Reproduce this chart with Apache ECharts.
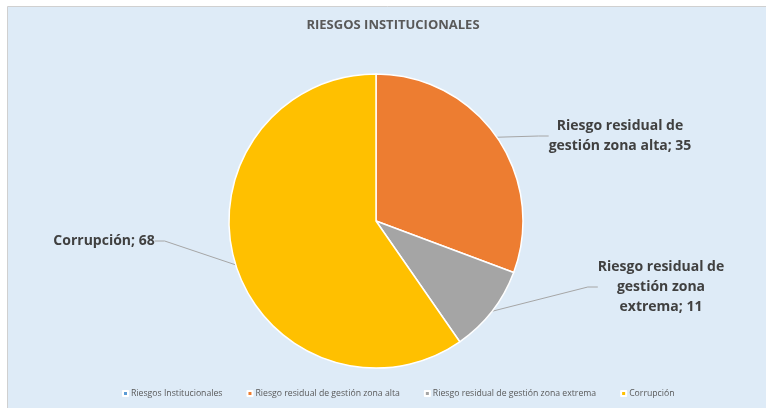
<!DOCTYPE html>
<html><head><meta charset="utf-8">
<script src="https://cdn.jsdelivr.net/npm/echarts@6/dist/echarts.min.js"></script>
<style>html,body{margin:0;padding:0;background:#fff}#c{width:766px;height:408px}</style>
</head><body><div id="c"></div>
<script>
const categories = ['Riesgos Institucionales', 'Riesgo residual de gestión zona alta', 'Riesgo residual de gestión zona extrema', 'Corrupción'];
const values = [0, 35, 11, 68];
const wrappedNames = ['', 'Riesgo residual de\ngestión zona alta', 'Riesgo residual de\ngestión zona\nextrema', 'Corrupción'];
const colors = ['#5B9BD5', '#ED7D31', '#A5A5A5', '#FFC000'];
const labelPos = [null, {x: 620, y: 136}, {x: 661, y: 287}, {x: 104, y: 241}];

const chart = echarts.init(document.getElementById('c'), null, {renderer: 'canvas'});
const data = categories.map((c, i) => ({
  name: c, value: values[i],
  itemStyle: {color: colors[i]},
  label: {show: i !== 0},
  labelLine: {show: i !== 0}
}));
chart.setOption({
  backgroundColor: '#ffffff',
  animation: false,
  graphic: [{type: 'rect', z: -10, shape: {x: 7.5, y: 6.5, width: 770, height: 410},
    style: {fill: '#DEEBF7', stroke: '#D0D0D0', lineWidth: 1}}],
  title: {text: 'RIESGOS INSTITUCIONALES', left: 388, top: 14, textAlign: 'center',
    textStyle: {fontFamily: 'Open Sans', fontSize: 13, fontWeight: 'bold', color: '#595959'}},
  legend: {bottom: 5, left: 117, itemWidth: 5, itemHeight: 5, itemGap: 24, icon: 'rect',
    textStyle: {fontFamily: 'Open Sans', fontSize: 8.7, color: '#595959', padding: [0, 0, 0, -2]}, data: categories},
  series: [{
    type: 'pie', center: [376, 221], radius: [0, 147], startAngle: 90, clockwise: true,
    itemStyle: {borderColor: '#ffffff', borderWidth: 1.5},
    label: {position: 'outside', fontFamily: 'Open Sans', fontSize: 14, fontWeight: 'bold', color: '#404040',
      lineHeight: 20, align: 'center',
      formatter: p => wrappedNames[p.dataIndex] + '; ' + p.value},
    labelLine: {lineStyle: {color: '#A6A6A6', width: 1}, length: 10, length2: 10},
    labelLayout: p => {
      const lp = labelPos[p.dataIndex];
      if (!lp) return {};
      return {x: lp.x, y: lp.y, align: 'center', verticalAlign: 'middle', moveOverlap: false};
    },
    data: data
  }]
});
</script></body></html>
